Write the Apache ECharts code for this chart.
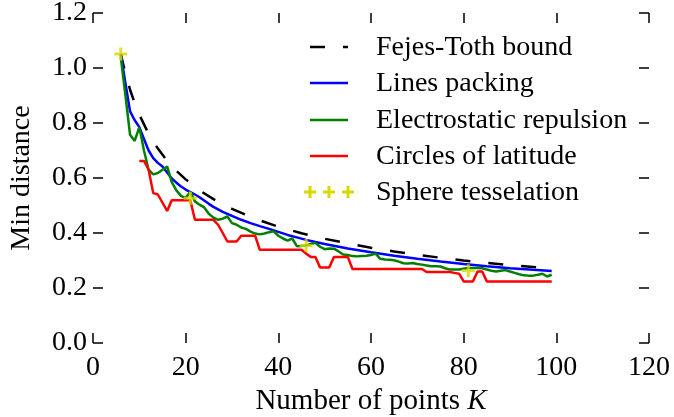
<!DOCTYPE html>
<html>
<head>
<meta charset="utf-8">
<script src="https://cdn.jsdelivr.net/npm/echarts@6/dist/echarts.min.js"></script>
<style>
  html, body { margin: 0; padding: 0; background: #fff; }
  #chart { width: 674px; height: 417px; }
</style>
</head>
<body>
<div id="chart"></div>
<script>
// Fejes-Toth upper bound (smooth, sampled)
let fejesK = [6, 7, 8, 9, 10, 12, 14, 16, 18, 20, 23, 26, 30, 35, 40, 45, 50, 55, 60, 65, 70, 75, 80, 85, 90, 95, 99];
let fejesD = [1.051, 0.980, 0.921, 0.872, 0.830, 0.761, 0.707, 0.663, 0.626, 0.595, 0.555, 0.523, 0.488, 0.452, 0.423,
  0.399, 0.379, 0.362, 0.346, 0.333, 0.321, 0.310, 0.300, 0.291, 0.283, 0.276, 0.270];

// Lines packing
let linesK = [6, 7, 8, 9, 10, 11, 12, 13, 14, 15, 16, 17, 18, 19, 20, 21, 22, 23, 24, 25, 26, 28, 30, 32, 34, 36, 38, 40,
  42, 44, 46, 48, 50, 55, 60, 65, 70, 75, 80, 85, 90, 95, 99];
let linesD = [1.051, 0.945, 0.842, 0.810, 0.785, 0.742, 0.700, 0.672, 0.655, 0.642, 0.620, 0.598, 0.583, 0.569, 0.558,
  0.549, 0.540, 0.530, 0.518, 0.506, 0.495, 0.477, 0.462, 0.448, 0.436, 0.425, 0.415, 0.404, 0.393, 0.384, 0.375,
  0.367, 0.360, 0.344, 0.330, 0.317, 0.306, 0.296, 0.287, 0.279, 0.272, 0.266, 0.262];

// Electrostatic repulsion, K = 6..99
let electroK = [6, 7, 8, 9, 10, 11, 12, 13, 14, 15, 16, 17, 18, 19, 20, 21, 22, 23, 24, 25, 26, 27, 28, 29, 30,
  31, 32, 33, 34, 35, 36, 37, 38, 39, 40, 41, 42, 43, 44, 45, 46, 47, 48, 49, 50, 51, 52, 53, 54, 55, 56, 57, 58,
  59, 60, 61, 62, 63, 64, 65, 66, 67, 68, 69, 70, 71, 72, 73, 74, 75, 76, 77, 78, 79, 80, 81, 82, 83, 84, 85, 86,
  87, 88, 89, 90, 91, 92, 93, 94, 95, 96, 97, 98, 99];
let electroD = [1.040, 0.900, 0.757, 0.735, 0.785, 0.700, 0.630, 0.613, 0.618, 0.630, 0.642, 0.585, 0.555, 0.535,
  0.527, 0.550, 0.515, 0.503, 0.493, 0.470, 0.456, 0.448, 0.452, 0.460, 0.436, 0.430, 0.420, 0.415, 0.405, 0.398,
  0.395, 0.398, 0.403, 0.406, 0.390, 0.380, 0.372, 0.380, 0.352, 0.353, 0.355, 0.360, 0.364, 0.350, 0.341, 0.344,
  0.343, 0.333, 0.322, 0.320, 0.316, 0.315, 0.316, 0.317, 0.320, 0.325, 0.306, 0.304, 0.303, 0.301, 0.296, 0.290,
  0.289, 0.291, 0.287, 0.285, 0.282, 0.279, 0.279, 0.278, 0.272, 0.267, 0.267, 0.267, 0.270, 0.273, 0.273, 0.273,
  0.272, 0.267, 0.263, 0.260, 0.263, 0.265, 0.260, 0.255, 0.250, 0.246, 0.245, 0.245, 0.248, 0.252, 0.242, 0.248];

// Circles of latitude, K = 10..99
let circlesK = [10, 11, 12, 13, 14, 15, 16, 17, 18, 19, 20, 21, 22, 23, 24, 25, 26, 27, 28, 29, 30, 31, 32, 33, 34,
  35, 36, 37, 38, 39, 40, 41, 42, 43, 44, 45, 46, 47, 48, 49, 50, 51, 52, 53, 54, 55, 56, 57, 58, 59, 60, 61, 62,
  63, 64, 65, 66, 67, 68, 69, 70, 71, 72, 73, 74, 75, 76, 77, 78, 79, 80, 81, 82, 83, 84, 85, 86, 87, 88, 89, 90,
  91, 92, 93, 94, 95, 96, 97, 98, 99];
let circlesD = [0.662, 0.662, 0.630, 0.545, 0.540, 0.510, 0.480, 0.519, 0.519, 0.519, 0.519, 0.519, 0.448, 0.448,
  0.448, 0.448, 0.448, 0.430, 0.400, 0.369, 0.369, 0.369, 0.390, 0.390, 0.390, 0.390, 0.339, 0.339, 0.339, 0.339,
  0.339, 0.339, 0.339, 0.339, 0.339, 0.339, 0.325, 0.313, 0.313, 0.275, 0.275, 0.275, 0.313, 0.313, 0.313, 0.313,
  0.269, 0.269, 0.269, 0.269, 0.269, 0.269, 0.269, 0.269, 0.269, 0.269, 0.269, 0.269, 0.269, 0.269, 0.269, 0.269,
  0.258, 0.258, 0.258, 0.258, 0.258, 0.258, 0.255, 0.252, 0.224, 0.224, 0.224, 0.260, 0.260, 0.224, 0.224, 0.224,
  0.224, 0.224, 0.224, 0.224, 0.224, 0.224, 0.224, 0.224, 0.224, 0.224, 0.224, 0.224];

// Sphere tesselation
let tessK = [6, 21, 46, 81];
let tessD = [1.051, 0.526, 0.355, 0.263];

let seriesNames = ['Fejes-Toth bound', 'Lines packing', 'Electrostatic repulsion', 'Circles of latitude', 'Sphere tesselation'];
let seriesColors = ['#000000', '#0000ff', '#008000', '#ff0000', '#d8d800'];

let xTicks = [0, 120, 20];   // min, max, step
let yTicks = [0, 1.2, 0.2];

document.addEventListener('DOMContentLoaded', () => {
  let FONT = '"Liberation Serif", "Times New Roman", serif';
  let FS = 28;
  let DASH = [15, 18];
  let LW = 2.5;

  let pairs = (ks, ds) => ks.map((k, i) => [k, ds[i]]);
  let plusPath = 'path://M5,0H8V5H13V8H8V13H5V8H0V5H5Z';

  let chart = echarts.init(document.getElementById('chart'), null, { renderer: 'canvas' });

  let tickStyle = { show: true, inside: true, length: 10, lineStyle: { color: '#000', width: 1.5 } };

  // no spines, ticks on all four sides pointing inwards
  let xBase = {
    type: 'value', min: xTicks[0], max: xTicks[1], interval: xTicks[2],
    axisLine: { show: false, onZero: false }, splitLine: { show: false }, axisTick: tickStyle
  };
  let yBase = {
    type: 'value', min: yTicks[0], max: yTicks[1], interval: yTicks[2],
    axisLine: { show: false, onZero: false }, splitLine: { show: false }, axisTick: tickStyle
  };

  // legend drawn by hand (matplotlib-like, no frame)
  let legendX = 310, legendW = 38, legendTextX = 376;
  let legendY = [47, 83, 120, 156, 192];
  let legendGraphics = [];
  seriesNames.forEach((name, i) => {
    let y = legendY[i];
    if (i === 4) {
      [legendX, legendX + 19, legendX + 38].forEach(cx => {
        legendGraphics.push({ type: 'rect', shape: { x: cx - 6, y: y - 1.5, width: 12, height: 3 }, style: { fill: seriesColors[i] } });
        legendGraphics.push({ type: 'rect', shape: { x: cx - 1.5, y: y - 6, width: 3, height: 12 }, style: { fill: seriesColors[i] } });
      });
    } else {
      legendGraphics.push({
        type: 'line',
        shape: { x1: legendX, y1: y, x2: legendX + legendW, y2: y },
        style: { stroke: seriesColors[i], lineWidth: LW, lineDash: i === 0 ? DASH : null }
      });
    }
    legendGraphics.push({
      type: 'text', x: legendTextX, y: y + 1,
      style: { text: name, font: FS + 'px ' + FONT, fill: '#000', verticalAlign: 'middle', align: 'left' }
    });
  });

  let option = {
    animation: false,
    backgroundColor: '#fff',
    grid: { left: 93, right: 25, top: 13, bottom: 74, containLabel: false, outerBoundsMode: 'none' },
    xAxis: [
      Object.assign({}, xBase, {
        position: 'bottom',
        name: 'Number of points {i|K}',
        nameLocation: 'middle',
        nameGap: 41,
        nameTextStyle: {
          fontFamily: FONT, fontSize: 29, color: '#000', verticalAlign: 'top',
          rich: { i: { fontFamily: FONT, fontSize: 29, fontStyle: 'italic', color: '#000' } }
        },
        axisLabel: { show: true, margin: 11, fontFamily: FONT, fontSize: FS, color: '#000' }
      }),
      Object.assign({}, xBase, { position: 'top', axisLabel: { show: false } })
    ],
    yAxis: [
      Object.assign({}, yBase, {
        position: 'left',
        name: 'Min distance',
        nameLocation: 'middle',
        nameGap: 57,
        nameTextStyle: { fontFamily: FONT, fontSize: FS, color: '#000' },
        axisLabel: { show: true, margin: 6, fontFamily: FONT, fontSize: FS, color: '#000', formatter: v => v.toFixed(1) }
      }),
      Object.assign({}, yBase, { position: 'right', axisLabel: { show: false } })
    ],
    graphic: legendGraphics,
    series: [
      {
        name: seriesNames[0], type: 'line', data: pairs(fejesK, fejesD), symbol: 'none',
        lineStyle: { color: seriesColors[0], width: LW, type: DASH }
      },
      {
        name: seriesNames[1], type: 'line', data: pairs(linesK, linesD), symbol: 'none',
        lineStyle: { color: seriesColors[1], width: LW }
      },
      {
        name: seriesNames[2], type: 'line', data: pairs(electroK, electroD), symbol: 'none',
        lineStyle: { color: seriesColors[2], width: LW }
      },
      {
        name: seriesNames[3], type: 'line', data: pairs(circlesK, circlesD), symbol: 'none',
        lineStyle: { color: seriesColors[3], width: LW }
      },
      {
        name: seriesNames[4], type: 'scatter', data: pairs(tessK, tessD), symbol: plusPath, symbolSize: 13,
        itemStyle: { color: seriesColors[4] }, z: 5
      }
    ]
  };

  chart.setOption(option);
});
</script>
</body>
</html>
